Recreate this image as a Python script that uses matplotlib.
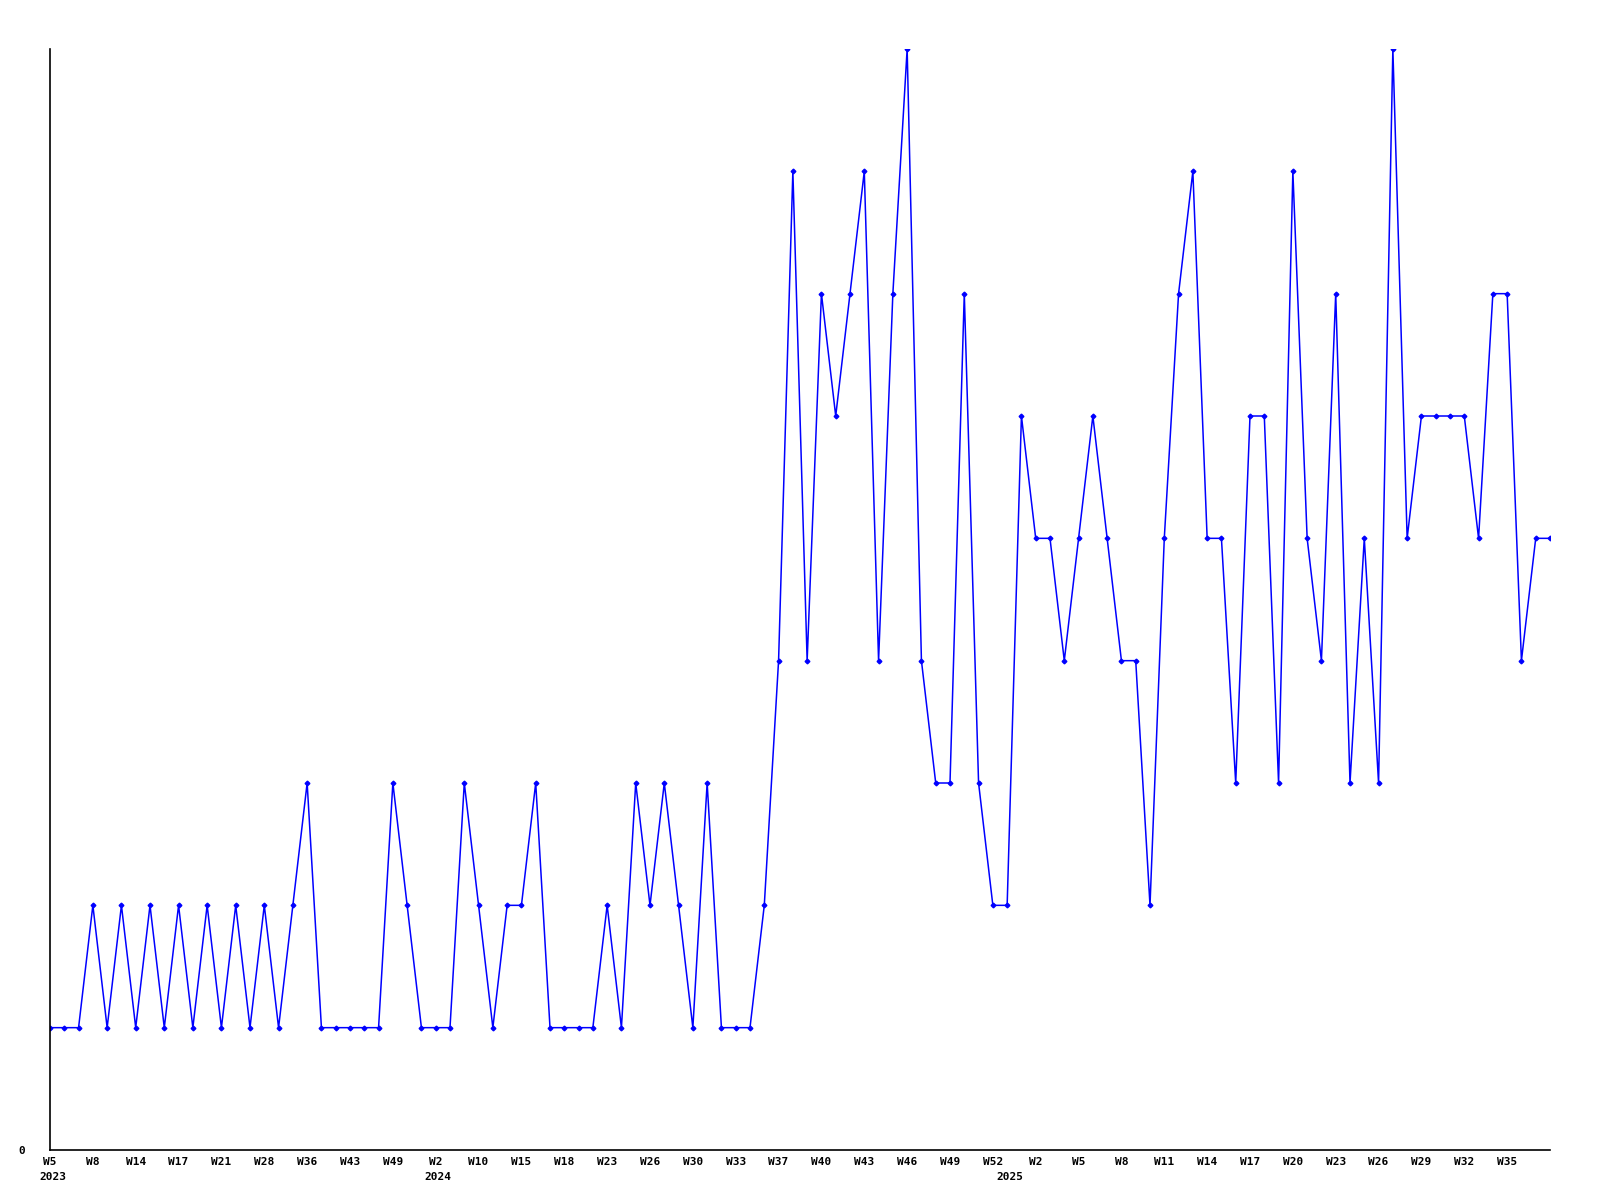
import matplotlib
matplotlib.use("Agg")
import matplotlib.pyplot as plt
import matplotlib.transforms as mtransforms

# weekly counts, one value per sample (labels every third sample)
values = [1, 1, 1, 2, 1, 2, 1, 2, 1, 2, 1, 2, 1, 2, 1, 2, 1, 2, 3, 1,
          1, 1, 1, 1, 3, 2, 1, 1, 1, 3, 2, 1, 2, 2, 3, 1, 1, 1, 1, 2,
          1, 3, 2, 3, 2, 1, 3, 1, 1, 1, 2, 4, 8, 4, 7, 6, 7, 8, 4, 7,
          9, 4, 3, 3, 7, 3, 2, 2, 6, 5, 5, 4, 5, 6, 5, 4, 4, 2, 5, 7,
          8, 5, 5, 3, 6, 6, 3, 8, 5, 4, 7, 3, 5, 3, 9, 5, 6, 6, 6, 6,
          5, 7, 7, 4, 5, 5]

week_labels = ["W5", "W8", "W14", "W17", "W21", "W28", "W36", "W43", "W49",
               "W2", "W10", "W15", "W18", "W23", "W26", "W30", "W33", "W37",
               "W40", "W43", "W46", "W49", "W52", "W2", "W5", "W8", "W11",
               "W14", "W17", "W20", "W23", "W26", "W29", "W32", "W35"]
label_step = 3
# sample index where each year starts
year_starts = [0, 27, 67]
year_names = ["2023", "2024", "2025"]

font = {"family": "DejaVu Sans Mono", "weight": "bold", "size": 8}

fig = plt.figure(figsize=(16, 12), dpi=100)
ax = fig.add_axes([50 / 1600, 50 / 1200, 1500 / 1600, 1101 / 1200])

x = list(range(len(values)))
ax.plot(x, values, color="#0000ff", linewidth=1.1, marker="D", markersize=2.4)

ax.set_xlim(0, len(values) - 1)
ax.set_ylim(0, max(values))

ticks = [i * label_step for i in range(len(week_labels))]
ax.set_xticks(ticks)
ax.set_xticklabels(week_labels, fontdict=font)
ax.set_yticks([0])
ax.set_yticklabels(["0"], fontdict=font)
ax.tick_params(length=0, pad=5)
ax.tick_params(axis="y", pad=18)

trans = mtransforms.blended_transform_factory(ax.transData, ax.transAxes)
for idx, yr in zip(year_starts, year_names):
    ax.annotate(yr, xy=(idx, 0), xycoords=trans, xytext=(-8, -19.5),
                textcoords="offset points", ha="left", va="center", **font)

for side in ["top", "right"]:
    ax.spines[side].set_visible(False)
for side in ["left", "bottom"]:
    ax.spines[side].set_linewidth(1.2)

fig.savefig("out.png", dpi=100)
